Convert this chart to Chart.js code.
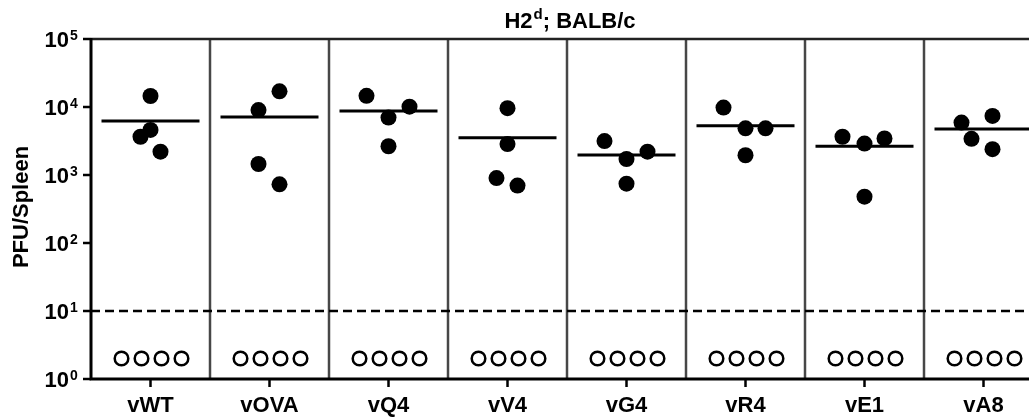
<!DOCTYPE html>
<html>
<head>
<meta charset="utf-8">
<script src="https://cdn.jsdelivr.net/npm/chart.js@4"></script>
<style>
  html, body { margin: 0; padding: 0; background: #fff; overflow: hidden; }
  #wrap { width: 1060px; height: 417px; position: relative; }
</style>
</head>
<body>
<div id="wrap"><canvas id="chart"></canvas></div>
<script>
// groups and measured PFU per spleen (4 mice each)
const categories = ["vWT", "vOVA", "vQ4", "vV4", "vG4", "vR4", "vE1", "vA8"];
const pfuValues = [
  [14500, 4600, 3650, 2200],
  [17000, 9000, 1450, 730],
  [14600, 10100, 7000, 2650],
  [9600, 2850, 900, 700],
  [3150, 2200, 1720, 745],
  [9800, 4850, 4850, 1950],
  [3650, 3450, 2900, 480],
  [7400, 5900, 3400, 2400],
];
const groupMeans = [6220, 7130, 8730, 3540, 1970, 5310, 2640, 4750];
// mice below detection, plotted at a nominal value
const undetectedCounts = [4, 4, 4, 4, 4, 4, 4, 4];
const undetectedValue = 2;
const detectionLimit = 10;
const yTickPowers = [0, 1, 2, 3, 4, 5];
const titleMain = "H2";
const titleSup = "d";
const titleRest = "; BALB/c";
const yTitle = "PFU/Spleen";

// horizontal scatter of dots inside a column (pixels)
const CAT_PX = 119;
const jitterPx = [
  [0, 0, -10, 10],
  [10, -11, -11, 10],
  [-22, 21, 0, 0],
  [0, 0, -11, 10],
  [-22, 21, 0, 0],
  [-22, 0, 20, 0],
  [-22, 20, 0, 0],
  [9, -22, -12, 9],
];
const ndJitterPx = [-29, -9, 11, 31];
const MEAN_HALF = 49 / CAT_PX;
const FONT = "'Liberation Sans', Arial, sans-serif";

const filled = [];
pfuValues.forEach((vals, i) => {
  vals.forEach((v, j) => filled.push({ x: i + jitterPx[i][j] / CAT_PX, y: v }));
});
const open = [];
undetectedCounts.forEach((n, i) => {
  for (let j = 0; j < n; j++) open.push({ x: i + ndJitterPx[j] / CAT_PX, y: undetectedValue });
});

const meanSets = groupMeans.map((m, i) => ({
  type: "line",
  data: [{ x: i - MEAN_HALF, y: m }, { x: i + MEAN_HALF, y: m }],
  borderColor: "#000",
  borderWidth: 3,
  pointRadius: 0,
  order: 2,
}));

const decor = {
  id: "decor",
  beforeDatasetsDraw(chart) {
    const { ctx, chartArea: a, scales: { x } } = chart;
    ctx.save();
    // column separators
    ctx.strokeStyle = "#474747";
    ctx.lineWidth = 2.5;
    for (let i = 0; i < categories.length; i++) {
      const px = Math.round(x.getPixelForValue(i + 0.5));
      ctx.beginPath();
      ctx.moveTo(px, a.top);
      ctx.lineTo(px, a.bottom);
      ctx.stroke();
    }
    // top border
    ctx.strokeStyle = "#222";
    ctx.lineWidth = 2.5;
    ctx.beginPath();
    ctx.moveTo(a.left, a.top);
    ctx.lineTo(a.right, a.top);
    ctx.stroke();
    ctx.restore();
  },
  afterDatasetsDraw(chart) {
    const { ctx, chartArea: a, scales: { x, y } } = chart;
    ctx.save();
    ctx.strokeStyle = "#000";
    ctx.fillStyle = "#000";
    ctx.lineWidth = 3;
    // axes
    ctx.beginPath();
    ctx.moveTo(a.left, a.top - 1);
    ctx.lineTo(a.left, a.bottom);
    ctx.lineTo(a.right, a.bottom);
    ctx.stroke();
    // y ticks + labels
    ctx.lineWidth = 2.5;
    yTickPowers.forEach((p) => {
      const py = y.getPixelForValue(Math.pow(10, p));
      ctx.beginPath();
      ctx.moveTo(a.left - 8, py);
      ctx.lineTo(a.left, py);
      ctx.stroke();
      ctx.font = "bold 22px " + FONT;
      ctx.textAlign = "right";
      ctx.textBaseline = "alphabetic";
      ctx.fillText("10", 69, py + 8);
      ctx.font = "bold 14px " + FONT;
      ctx.textAlign = "left";
      ctx.fillText(String(p), 70, py + 1);
    });
    // x ticks + labels
    categories.forEach((c, i) => {
      const px = x.getPixelForValue(i);
      ctx.beginPath();
      ctx.moveTo(px, a.bottom);
      ctx.lineTo(px, a.bottom + 8);
      ctx.stroke();
      ctx.font = "bold 22px " + FONT;
      ctx.textAlign = "center";
      ctx.textBaseline = "alphabetic";
      ctx.fillText(c, px, 412);
    });
    // y title
    ctx.save();
    ctx.translate(28, 207);
    ctx.rotate(-Math.PI / 2);
    ctx.font = "bold 22px " + FONT;
    ctx.textAlign = "center";
    ctx.fillText(yTitle, 0, 0);
    ctx.restore();
    // title with superscript
    ctx.textAlign = "left";
    ctx.font = "bold 22px " + FONT;
    const w1 = ctx.measureText(titleMain).width;
    const w3 = ctx.measureText(titleRest).width;
    ctx.font = "bold 15px " + FONT;
    const w2 = ctx.measureText(titleSup).width + 1;
    const cx = (a.left + a.right) / 2 + 3;
    const tx = cx - (w1 + w2 + w3) / 2;
    ctx.font = "bold 22px " + FONT;
    ctx.fillText(titleMain, tx, 28);
    ctx.font = "bold 15px " + FONT;
    ctx.fillText(titleSup, tx + w1 + 1, 19);
    ctx.font = "bold 22px " + FONT;
    ctx.fillText(titleRest, tx + w1 + w2, 28);
    ctx.restore();
  },
};

new Chart(document.getElementById("chart"), {
  type: "scatter",
  data: {
    datasets: [
      {
        type: "line",
        data: [{ x: -0.5, y: detectionLimit }, { x: categories.length - 0.5, y: detectionLimit }],
        borderColor: "#000",
        borderWidth: 2.5,
        borderDash: [9, 5],
        pointRadius: 0,
        order: 3,
      },
      ...meanSets,
      {
        data: filled,
        backgroundColor: "#000",
        borderWidth: 0,
        pointRadius: 8,
        order: 1,
      },
      {
        data: open,
        backgroundColor: "#fff",
        borderColor: "#000",
        borderWidth: 2.5,
        pointRadius: 6.8,
        order: 1,
      },
    ],
  },
  options: {
    responsive: true,
    maintainAspectRatio: false,
    animation: false,
    layout: { padding: { left: 91, right: 17, top: 39, bottom: 38 } },
    scales: {
      x: { type: "linear", min: -0.5, max: categories.length - 0.5, display: false },
      y: { type: "logarithmic", min: 1, max: 100000, display: false },
    },
    plugins: {
      legend: { display: false },
      tooltip: { enabled: false },
      title: { display: false },
    },
  },
  plugins: [decor],
});
</script>
</body>
</html>
